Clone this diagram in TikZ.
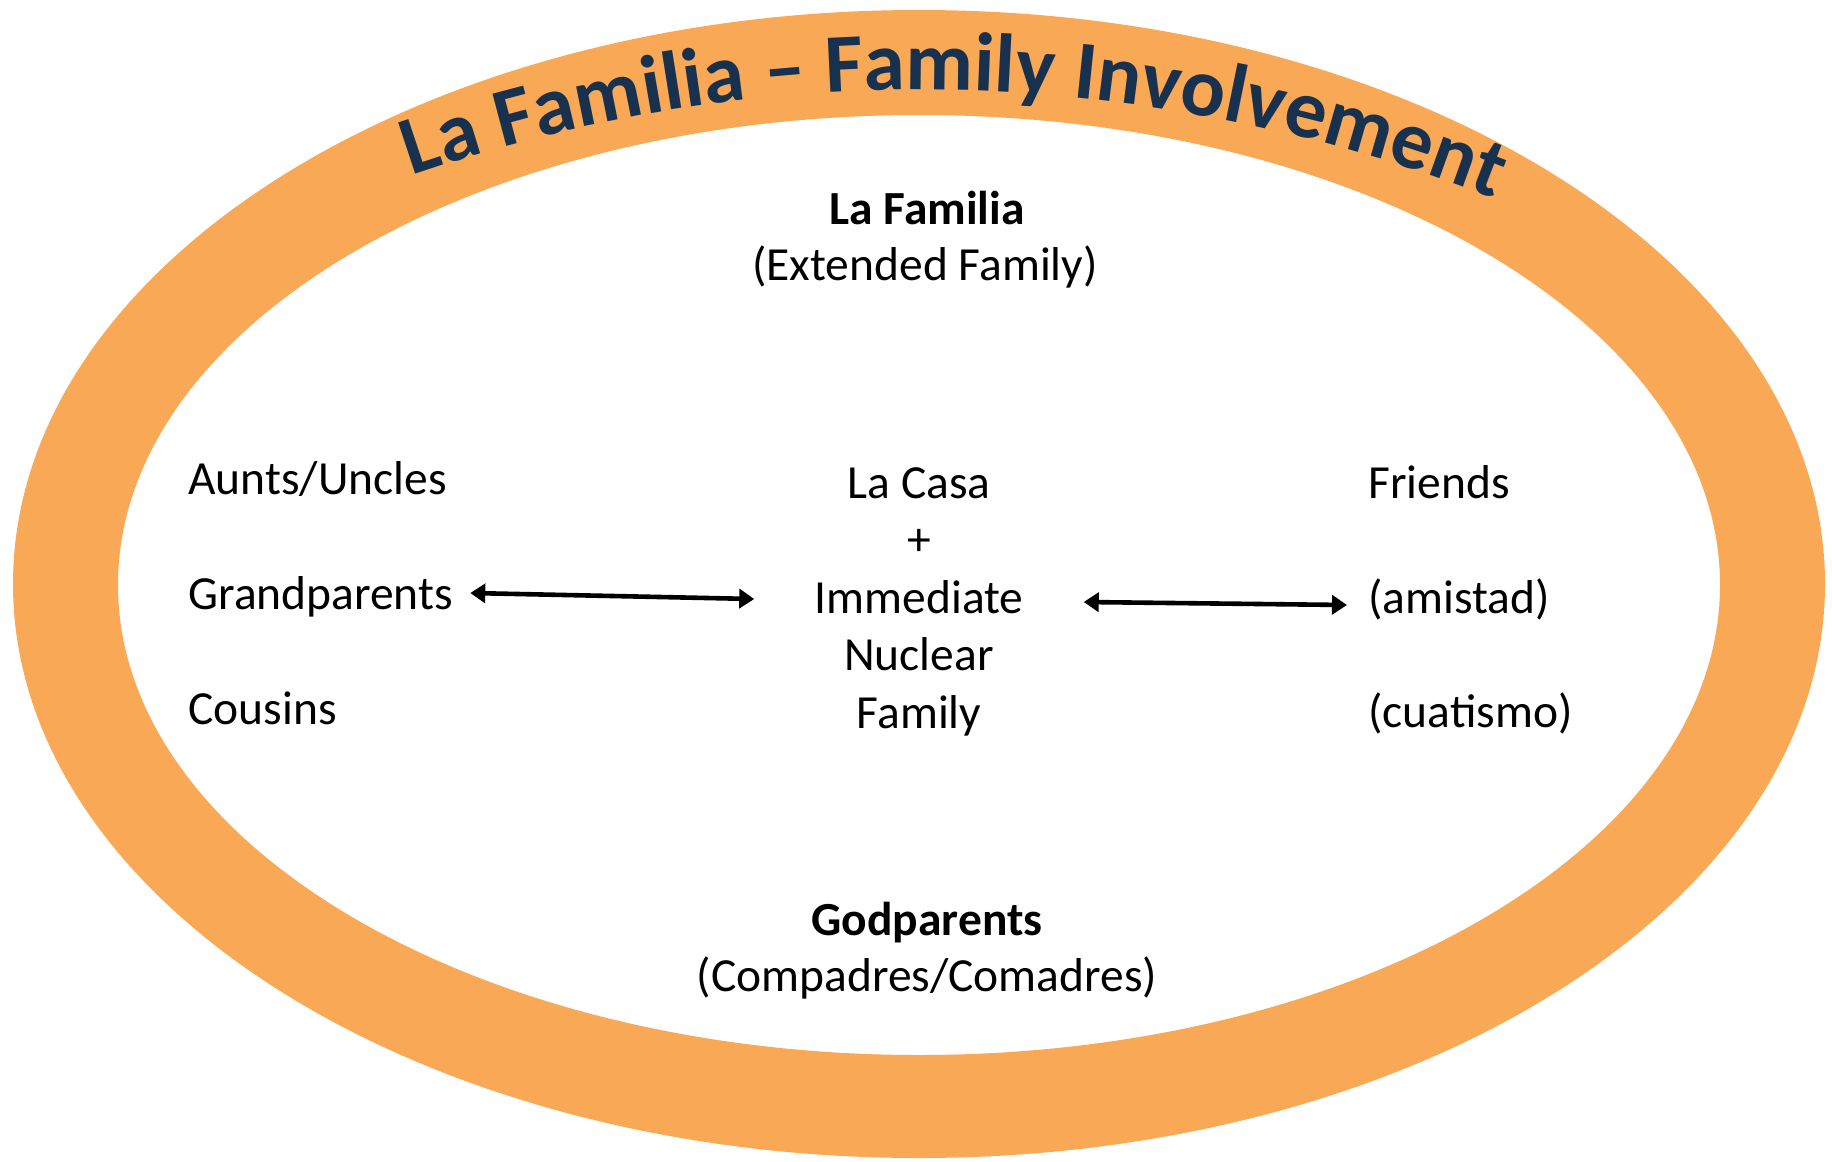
\documentclass[tikz,border=0pt]{standalone}
\usepackage{fontspec}
\setmainfont{Carlito}
\usetikzlibrary{arrows.meta,calc,decorations.text}
\definecolor{ringorange}{HTML}{F9A856}
\definecolor{titlenavy}{HTML}{17314F}
\newcommand\bodyfnt{\fontsize{23.75pt}{28.75pt}\selectfont}
\newcommand\titlefnt{\fontsize{41.6pt}{50pt}\selectfont\bfseries}
\tikzset{
  bodytext/.style={inner sep=0pt, font=\bodyfnt, text=black},
  boldtext/.style={bodytext, font=\bodyfnt\bfseries},
  biarrow/.style={line width=2.3pt, {Triangle[length=7.5pt,width=9.5pt]}-{Triangle[length=7.5pt,width=9.5pt]}}
}
\begin{document}
\begin{tikzpicture}[x=0.5pt,y=0.5pt]
\useasboundingbox (0,0) rectangle (1832,-1162);
% ring
\fill[ringorange, even odd rule]
  (919,-584) ellipse [x radius=906, y radius=574]
  (919,-585) ellipse [x radius=801, y radius=470];
% title along arc
\path[decorate, decoration={text along path, text align=center,
   text color=titlenavy,
   text={|\titlefnt|La Familia – Family Involvement}}]
  (921,-1651) ++(112.75:1561) arc[start angle=112.75, end angle=64.75, radius=1561];
% top
\node[boldtext, anchor=base] (lafam) at (927,-224) {La Familia};
\node[bodytext, anchor=base] (ext) at (925,-280) {(Extended Family)};
% left column
\node[bodytext, anchor=base west] (aunts) at (188,-494) {Aunts/Uncles};
\node[bodytext, anchor=base west] (grand) at (188,-609) {Grandparents};
\node[bodytext, anchor=base west] (cousins) at (188,-724) {Cousins};
% centre column
\node[bodytext, anchor=base] (casa) at (919,-498) {La Casa};
\node[bodytext, anchor=base] (plus) at (919,-555) {+};
\node[bodytext, anchor=base] (imm) at (919,-613) {Immediate};
\node[bodytext, anchor=base] (nuc) at (919,-670) {Nuclear};
\node[bodytext, anchor=base] (fam) at (919,-728) {Family};
% right column
\node[bodytext, anchor=base west] (friends) at (1368,-498) {Friends};
\node[bodytext, anchor=base west] (amistad) at (1368,-613) {(amistad)};
\node[bodytext, anchor=base west] (cuat) at (1368,-727) {(cuatismo)};
% bottom
\node[boldtext, anchor=base] (god) at (927,-935) {Godparents};
\node[bodytext, anchor=base] (comp) at (927,-991) {(Compadres/Comadres)};
% arrows
\draw[biarrow] ($(grand.base east)+(17,16)$) -- ($(imm.base west)+(-60,14)$);
\draw[biarrow] ($(imm.base east)+(60,11)$) -- ($(amistad.base west)+(-21,8)$);
\end{tikzpicture}
\end{document}
